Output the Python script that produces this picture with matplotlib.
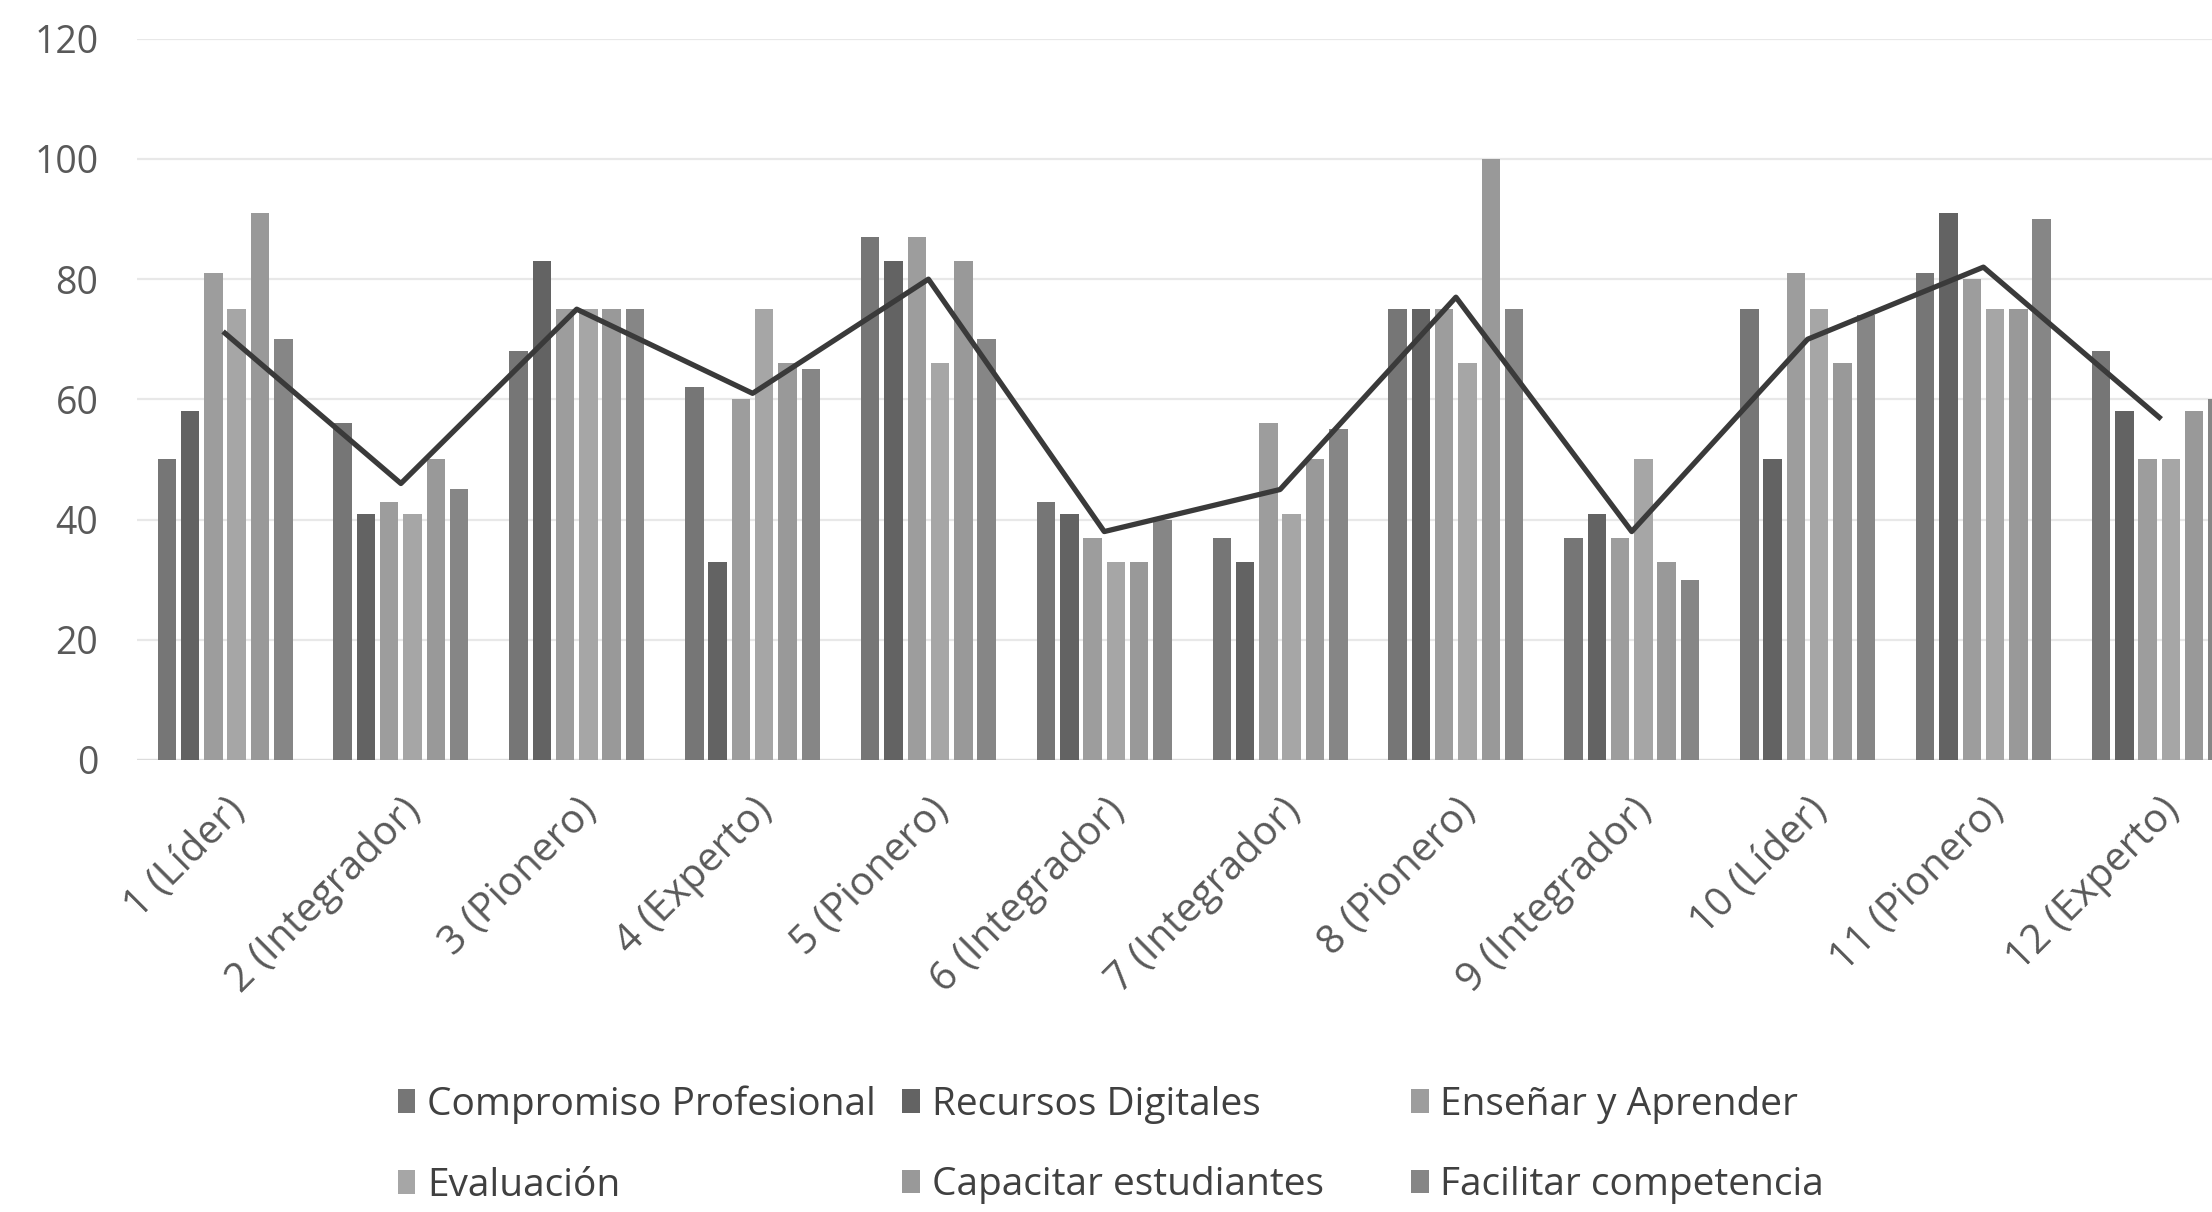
import matplotlib
matplotlib.use("Agg")
import matplotlib.pyplot as plt
import numpy as np

# --- data ---
categories = ["1 (Líder)", "2 (Integrador)", "3 (Pionero)", "4 (Experto)",
              "5 (Pionero)", "6 (Integrador)", "7 (Integrador)", "8 (Pionero)",
              "9 (Integrador)", "10 (Líder)", "11 (Pionero)", "12 (Experto)"]

compromiso = [50, 56, 68, 62, 87, 43, 37, 75, 37, 75, 81, 68]
recursos = [58, 41, 83, 33, 83, 41, 33, 75, 41, 50, 91, 58]
ensenar = [81, 43, 75, 60, 87, 37, 56, 75, 37, 81, 80, 50]
evaluacion = [75, 41, 75, 75, 66, 33, 41, 66, 50, 75, 75, 50]
capacitar = [91, 50, 75, 66, 83, 33, 50, 100, 33, 66, 75, 58]
facilitar = [70, 45, 75, 65, 70, 40, 55, 75, 30, 74, 90, 60]
promedio = [71, 46, 75, 61, 80, 38, 45, 77, 38, 70, 82, 57]

series_names = ["Compromiso Profesional", "Recursos Digitales", "Enseñar y Aprender",
                "Evaluación", "Capacitar estudiantes", "Facilitar competencia"]

plt.rcParams["font.family"] = ["Open Sans", "DejaVu Sans"]

fig = plt.figure(figsize=(22.12, 12.12), dpi=100)
ax = fig.add_axes([0.062, 0.373, 0.938, 0.595])

series = [compromiso, recursos, ensenar, evaluacion, capacitar, facilitar]
colors = ["#767676", "#636363", "#9d9d9d", "#a6a6a6", "#999999", "#868686"]
x = np.arange(len(categories))
step = 0.1325
width = 0.105

handles = []
for i, (vals, col) in enumerate(zip(series, colors)):
    b = ax.bar(x + (i - 2.5) * step, vals, width=width, color=col,
               label=series_names[i], zorder=2)
    handles.append(b)

ax.plot(x, promedio, color="#3a3a3a", linewidth=3.8, zorder=3)

ax.set_ylim(0, 120)
ax.set_xlim(-0.5, 11.30)
ax.set_yticks(range(0, 121, 20))
ax.yaxis.grid(True, color="#e8e8e8", linewidth=1.6, zorder=0)
ax.set_axisbelow(True)
for s in ax.spines.values():
    s.set_visible(False)
ax.axhline(0, color="#dcdcdc", linewidth=1.6, zorder=1)

ax.tick_params(axis="y", length=0, pad=28, labelsize=27, labelcolor="#595959")
ax.tick_params(axis="x", length=0, pad=22, labelsize=29, labelcolor="#595959")
ax.set_xticks(x)
ax.set_xticklabels(categories, rotation=45, ha="right", rotation_mode="anchor")

# legend: three columns of two rows, each column at a fixed position
col_x = [0.1798, 0.408, 0.638]
for c, xpos in enumerate(col_x):
    idx = [c, c + 3]
    leg = fig.legend([handles[i] for i in idx], [series_names[i] for i in idx],
                     loc="center left", bbox_to_anchor=(xpos, 0.0553),
                     frameon=False, fontsize=28, handlelength=0.45,
                     handleheight=0.55, handletextpad=0.3, labelspacing=1.1,
                     borderpad=0, borderaxespad=0)
    for t in leg.get_texts():
        t.set_color("#404040")

fig.savefig("out.png", dpi=100, facecolor="white")
